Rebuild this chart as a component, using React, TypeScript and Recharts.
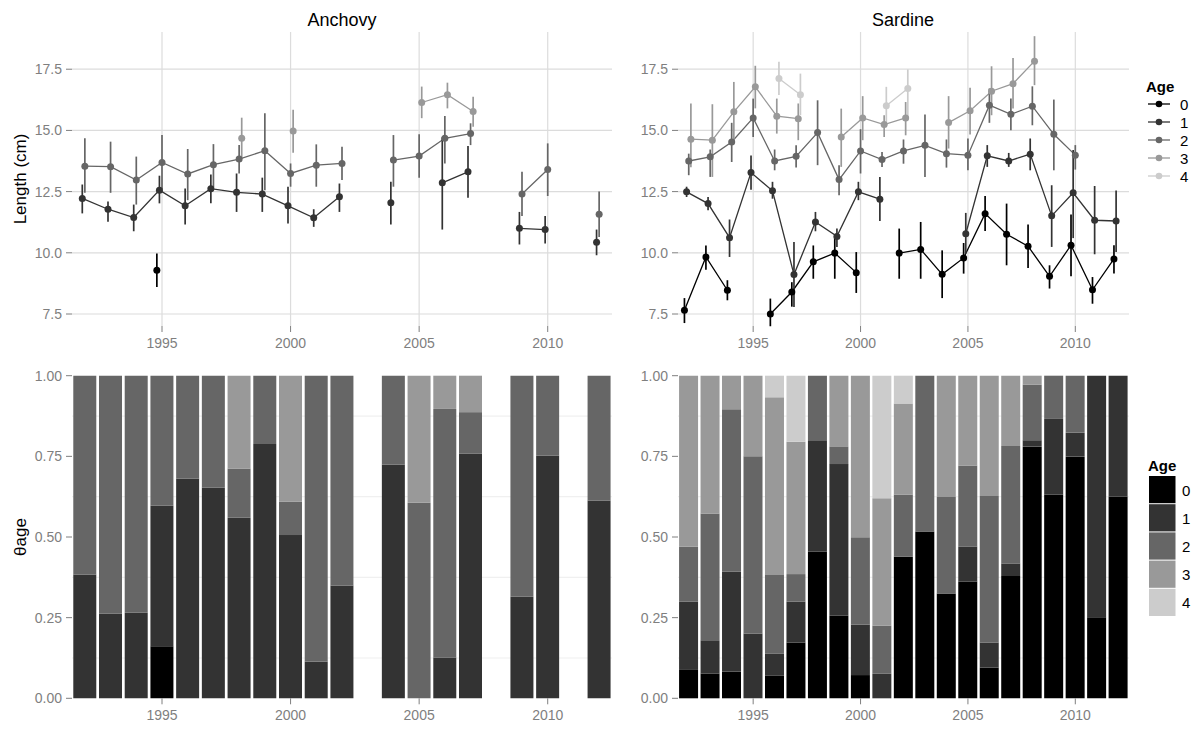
import {
  ComposedChart,
  BarChart,
  Bar,
  Line,
  Scatter,
  ErrorBar,
  XAxis,
  YAxis,
  CartesianGrid,
} from "recharts";

const FONT = '"Liberation Sans", Arial, sans-serif';

const YEARS = [
  1992, 1993, 1994, 1995, 1996, 1997, 1998, 1999, 2000, 2001, 2002, 2003,
  2004, 2005, 2006, 2007, 2008, 2009, 2010, 2011, 2012,
];
const AGES = ["0", "1", "2", "3", "4"];
const AGE_COLORS = ["#000000", "#333333", "#666666", "#999999", "#cccccc"];
const X_TICKS = [1995, 2000, 2005, 2010];
const LEN_TICKS = [7.5, 10, 12.5, 15, 17.5];
const PROP_TICKS = [0, 0.25, 0.5, 0.75, 1];
const PROP_MINOR = [0.125, 0.375, 0.625, 0.875];
const DODGE = 0.1;

const _ = null;

// ---- Anchovy mean length (cm) and error bar ends, one entry per year ----
const anchovyMean0 = [_, _, _, 9.29, _, _, _, _, _, _, _, _, _, _, _, _, _, _, _, _, _];
const anchovyLo0 = [_, _, _, 8.6, _, _, _, _, _, _, _, _, _, _, _, _, _, _, _, _, _];
const anchovyHi0 = [_, _, _, 9.97, _, _, _, _, _, _, _, _, _, _, _, _, _, _, _, _, _];

const anchovyMean1 = [12.22, 11.78, 11.44, 12.56, 11.92, 12.62, 12.47, 12.4, 11.92, 11.43, 12.29, _, 12.04, _, 12.86, 13.31, _, 11.0, 10.95, _, 10.43];
const anchovyLo1 = [11.61, 11.27, 10.88, 12.02, 11.16, 12.02, 11.67, 11.67, 11.2, 11.06, 11.67, _, 11.16, _, 10.95, 12.25, _, 10.34, 10.38, _, 9.9];
const anchovyHi1 = [12.79, 12.1, 11.97, 13.15, 12.63, 13.2, 13.24, 13.07, 12.7, 11.78, 12.83, _, 12.9, _, 14.72, 14.36, _, 11.67, 11.5, _, 10.95];

const anchovyMean2 = [13.54, 13.52, 12.97, 13.69, 13.22, 13.6, 13.83, 14.17, 13.24, 13.58, 13.65, _, 13.79, 13.95, 14.68, 14.87, _, 12.4, 13.4, _, 11.58];
const anchovyLo2 = [12.45, 12.45, 11.97, 12.59, 12.15, 12.67, 13.24, 12.56, 12.7, 12.7, 12.97, _, 12.7, 13.07, 13.65, 14.4, _, 11.5, 12.32, _, 10.65];
const anchovyHi2 = [14.68, 14.54, 13.93, 14.81, 14.24, 14.44, 14.4, 15.7, 13.65, 14.43, 14.33, _, 14.81, 14.84, 15.59, 15.29, _, 13.31, 14.47, _, 12.5];

const anchovyMean3 = [_, _, _, _, _, _, 14.68, _, 14.98, _, _, _, _, 16.14, 16.46, 15.77, _, _, _, _, _];
const anchovyLo3 = [_, _, _, _, _, _, 13.86, _, 14.09, _, _, _, _, 15.5, 15.9, 15.15, _, _, _, _, _];
const anchovyHi3 = [_, _, _, _, _, _, 15.52, _, 15.84, _, _, _, _, 16.79, 16.95, 16.38, _, _, _, _, _];

// ---- Sardine mean length (cm) and error bar ends ----
const sardineMean0 = [7.65, 9.83, 8.47, _, 7.5, 8.4, 9.63, 9.99, 9.19, _, 9.99, 10.14, 9.12, 9.79, 11.6, 10.76, 10.27, 9.04, 10.31, 8.49, 9.75];
const sardineLo0 = [7.13, 9.31, 8.06, _, 7.0, 7.8, 8.94, 8.94, 8.36, _, 8.94, 8.94, 8.15, 9.15, 10.89, 9.49, 9.38, 8.54, 9.04, 7.92, 9.15];
const sardineHi0 = [8.15, 10.3, 8.88, _, 8.13, 8.8, 10.3, 10.7, 10.03, _, 10.99, 11.26, 10.1, 10.4, 12.32, 12.01, 11.16, 9.49, 11.56, 9.01, 10.31];

const sardineMean1 = [12.49, 12.01, 10.62, 13.28, 12.53, 9.11, 11.26, 10.67, 12.49, 12.19, _, _, _, 10.78, 13.96, 13.75, 14.03, 11.51, 12.45, 11.33, 11.3];
const sardineLo1 = [12.28, 11.74, 9.83, 12.58, 12.21, 7.79, 10.88, 10.24, 12.15, 11.3, _, _, _, 9.97, 13.51, 13.51, 13.37, 10.24, 10.6, 9.94, 10.03];
const sardineHi1 = [12.7, 12.28, 11.36, 13.98, 12.9, 10.44, 11.67, 10.99, 12.9, 13.1, _, _, _, 11.63, 14.4, 14.08, 14.67, 12.76, 14.2, 12.73, 12.55];

const sardineMean2 = [13.75, 13.92, 14.53, 15.51, 13.75, 13.94, 14.91, 12.99, 14.16, 13.81, 14.16, 14.39, 14.05, 13.99, 16.03, 15.66, 15.99, 14.84, 13.99, _, _];
const sardineLo2 = [13.17, 13.1, 13.71, 14.73, 13.37, 13.48, 13.58, 12.35, 13.24, 13.51, 13.64, 13.1, 13.48, 13.37, 15.31, 15.01, 15.21, 13.37, 13.4, _, _];
const sardineHi2 = [14.05, 14.22, 15.31, 16.3, 14.22, 14.39, 16.23, 13.58, 15.05, 14.12, 14.63, 15.65, 14.63, 14.67, 16.71, 16.3, 16.8, 16.26, 14.4, _, _];

const sardineMean3 = [14.64, 14.6, 15.76, 16.78, 15.58, 15.48, _, 14.73, 15.51, 15.24, 15.51, _, 15.32, 15.8, 16.6, 16.91, 17.83, _, _, _, _];
const sardineLo3 = [13.5, 13.1, 14.53, 15.9, 14.87, 14.6, _, 13.51, 14.6, 14.73, 14.8, _, 14.26, 14.83, 15.62, 15.89, 16.85, _, _, _, _];
const sardineHi3 = [16.1, 16.07, 16.98, 17.64, 16.3, 16.1, _, 15.89, 16.4, 15.62, 16.16, _, 16.4, 16.74, 17.62, 17.96, 18.85, _, _, _, _];

const sardineMean4 = [_, _, _, _, 17.12, 16.46, _, _, _, 16.01, 16.71, _, _, _, _, _, _, _, _, _, _];
const sardineLo4 = [_, _, _, _, 16.45, 15.62, _, _, _, 15.28, 15.55, _, _, _, _, _, _, _, _, _, _];
const sardineHi4 = [_, _, _, _, 17.8, 17.32, _, _, _, 16.78, 17.49, _, _, _, _, _, _, _, _, _, _];

// ---- Proportion at age ----
const anchovyProp0 = [0, 0, 0, 0.161, 0, 0, 0, 0, 0, 0, 0, _, 0, 0, 0, 0, _, 0, 0, _, 0];
const anchovyProp1 = [0.384, 0.263, 0.265, 0.436, 0.681, 0.653, 0.56, 0.788, 0.506, 0.114, 0.35, _, 0.725, 0, 0.126, 0.758, _, 0.315, 0.752, _, 0.613];
const anchovyProp2 = [0.616, 0.737, 0.735, 0.403, 0.319, 0.347, 0.152, 0.212, 0.104, 0.886, 0.65, _, 0.275, 0.606, 0.771, 0.129, _, 0.685, 0.248, _, 0.387];
const anchovyProp3 = [0, 0, 0, 0, 0, 0, 0.288, 0, 0.39, 0, 0, _, 0, 0.394, 0.103, 0.113, _, 0, 0, _, 0];

const sardineProp0 = [0.09, 0.077, 0.083, 0, 0.071, 0.173, 0.455, 0.256, 0.072, 0, 0.439, 0.517, 0.325, 0.362, 0.095, 0.379, 0.78, 0.632, 0.749, 0.251, 0.625];
const sardineProp1 = [0.21, 0.101, 0.31, 0.201, 0.068, 0.127, 0.345, 0.47, 0.157, 0.076, 0, 0, 0, 0.108, 0.078, 0.039, 0.02, 0.234, 0.074, 0.749, 0.375];
const sardineProp2 = [0.17, 0.395, 0.503, 0.549, 0.243, 0.085, 0.2, 0.055, 0.27, 0.149, 0.193, 0.483, 0.299, 0.252, 0.454, 0.364, 0.173, 0.134, 0.177, 0, 0];
const sardineProp3 = [0.53, 0.427, 0.104, 0.25, 0.551, 0.41, 0, 0.219, 0.501, 0.395, 0.282, 0, 0.376, 0.278, 0.373, 0.218, 0.027, 0, 0, 0, 0];
const sardineProp4 = [0, 0, 0, 0, 0.067, 0.205, 0, 0, 0, 0.38, 0.086, 0, 0, 0, 0, 0, 0, 0, 0, 0, 0];

const anchovyLength = [
  [anchovyMean0, anchovyLo0, anchovyHi0],
  [anchovyMean1, anchovyLo1, anchovyHi1],
  [anchovyMean2, anchovyLo2, anchovyHi2],
  [anchovyMean3, anchovyLo3, anchovyHi3],
];
const sardineLength = [
  [sardineMean0, sardineLo0, sardineHi0],
  [sardineMean1, sardineLo1, sardineHi1],
  [sardineMean2, sardineLo2, sardineHi2],
  [sardineMean3, sardineLo3, sardineHi3],
  [sardineMean4, sardineLo4, sardineHi4],
];
const anchovyProps = [anchovyProp0, anchovyProp1, anchovyProp2, anchovyProp3];
const sardineProps = [sardineProp0, sardineProp1, sardineProp2, sardineProp3, sardineProp4];

const tickStyle = { fill: "#7f7f7f", fontSize: 14, fontFamily: FONT };
const tickLine = { stroke: "#7f7f7f", strokeWidth: 1 };

function buildPoints(mean, lo, hi, age) {
  return YEARS.map((year, i) => ({
    x: year + (age - 2) * DODGE,
    v: mean[i],
    e: mean[i] == null ? null : [mean[i] - lo[i], hi[i] - mean[i]],
  }));
}

function LengthPanel({ series, width, margin }) {
  const all = series.map(([m, l, h], age) => buildPoints(m, l, h, age));
  return (
    <ComposedChart width={width} height={360} margin={margin}>
      <CartesianGrid
        stroke="#dcdcdc"
        strokeWidth={1.2}
        horizontalValues={LEN_TICKS}
        verticalValues={X_TICKS}
      />
      <XAxis
        type="number"
        dataKey="x"
        domain={[1991.5, 2012.5]}
        allowDataOverflow
        ticks={X_TICKS}
        height={30}
        tick={tickStyle}
        tickLine={tickLine}
        tickSize={6}
        tickMargin={6}
        axisLine={false}
      />
      <YAxis
        type="number"
        domain={[7.01, 19.02]}
        allowDataOverflow
        ticks={LEN_TICKS}
        tickFormatter={(v) => v.toFixed(1)}
        width={50}
        tick={tickStyle}
        tickLine={tickLine}
        tickSize={6}
        tickMargin={4}
        axisLine={false}
      />
      {all.map((pts, age) => (
        <Line
          key={"l" + age}
          data={pts}
          dataKey="v"
          stroke={AGE_COLORS[age]}
          strokeWidth={1.3}
          dot={false}
          activeDot={false}
          isAnimationActive={false}
        />
      ))}
      {all.map((pts, age) => (
        <Scatter
          key={"s" + age}
          data={pts.filter((p) => p.v != null)}
          dataKey="v"
          isAnimationActive={false}
          shape={(p) => <circle cx={p.cx} cy={p.cy} r={3.5} fill={AGE_COLORS[age]} />}
        >
          <ErrorBar
            dataKey="e"
            direction="y"
            width={0}
            stroke={AGE_COLORS[age]}
            strokeWidth={1.7}
            isAnimationActive={false}
          />
        </Scatter>
      ))}
    </ComposedChart>
  );
}

function PropPanel({ props, width, margin }) {
  const data = YEARS.map((year, i) => {
    const row = { year };
    props.forEach((arr, age) => {
      row["a" + age] = arr[i];
    });
    return row;
  });
  return (
    <BarChart width={width} height={371} data={data} margin={margin} barCategoryGap="5%">
      <CartesianGrid
        stroke="#f0f0f0"
        strokeWidth={1.2}
        vertical={false}
        horizontalValues={PROP_MINOR}
      />
      <XAxis
        dataKey="year"
        ticks={X_TICKS}
        height={30}
        tick={tickStyle}
        tickLine={tickLine}
        tickSize={6}
        tickMargin={6}
        axisLine={false}
      />
      <YAxis
        type="number"
        domain={[0, 1]}
        ticks={PROP_TICKS}
        tickFormatter={(v) => v.toFixed(2)}
        width={50}
        tick={tickStyle}
        tickLine={tickLine}
        tickSize={6}
        tickMargin={4}
        axisLine={false}
      />
      {props.map((_arr, age) => (
        <Bar
          key={age}
          dataKey={"a" + age}
          stackId="s"
          fill={AGE_COLORS[age]}
          isAnimationActive={false}
        />
      ))}
    </BarChart>
  );
}

function Labels() {
  return (
    <svg
      width={1200}
      height={731}
      style={{ position: "absolute", left: 0, top: 0, pointerEvents: "none" }}
      fontFamily={FONT}
    >
      <text x={342} y={20} fontSize={18} textAnchor="middle" dominantBaseline="central">
        Anchovy
      </text>
      <text x={903} y={20} fontSize={18} textAnchor="middle" dominantBaseline="central">
        Sardine
      </text>
      <text
        x={20}
        y={179}
        fontSize={17}
        textAnchor="middle"
        dominantBaseline="central"
        transform="rotate(-90 20 179)"
      >
        Length (cm)
      </text>
      <text
        x={20}
        y={537}
        fontSize={17}
        textAnchor="middle"
        dominantBaseline="central"
        transform="rotate(-90 20 537)"
      >
        θage
      </text>

      {/* line legend */}
      <text x={1146} y={86} fontSize={15} fontWeight="bold" dominantBaseline="central">
        Age
      </text>
      {AGES.map((a, i) => (
        <g key={a}>
          <line x1={1148} x2={1170} y1={104 + i * 18} y2={104 + i * 18} stroke={AGE_COLORS[i]} strokeWidth={1.3} />
          <circle cx={1159} cy={104 + i * 18} r={3.3} fill={AGE_COLORS[i]} />
          <text x={1180} y={104 + i * 18} fontSize={15} dominantBaseline="central">
            {a}
          </text>
        </g>
      ))}

      {/* fill legend */}
      <text x={1148} y={465} fontSize={15} fontWeight="bold" dominantBaseline="central">
        Age
      </text>
      {AGES.map((a, i) => (
        <g key={a}>
          <rect x={1149} y={476 + i * 28.2} width={26.5} height={27.2} fill={AGE_COLORS[i]} />
          <text x={1182} y={490 + i * 28.2} fontSize={15} dominantBaseline="central">
            {a}
          </text>
        </g>
      ))}
    </svg>
  );
}

export default function App() {
  return (
    <div
      style={{
        position: "absolute",
        left: 0,
        top: 0,
        width: 1200,
        height: 731,
        background: "#fff",
        fontFamily: FONT,
      }}
    >
      <div style={{ position: "absolute", left: 0, top: 0 }}>
        <LengthPanel series={anchovyLength} width={620} margin={{ top: 32, right: 8, bottom: 4, left: 22 }} />
      </div>
      <div style={{ position: "absolute", left: 620, top: 0 }}>
        <LengthPanel series={sardineLength} width={580} margin={{ top: 32, right: 71, bottom: 4, left: 8 }} />
      </div>
      <div style={{ position: "absolute", left: 0, top: 360 }}>
        <PropPanel props={anchovyProps} width={620} margin={{ top: 15.7, right: 8, bottom: 2.7, left: 22 }} />
      </div>
      <div style={{ position: "absolute", left: 620, top: 360 }}>
        <PropPanel props={sardineProps} width={580} margin={{ top: 15.7, right: 71, bottom: 2.7, left: 8 }} />
      </div>
      <Labels />
    </div>
  );
}
